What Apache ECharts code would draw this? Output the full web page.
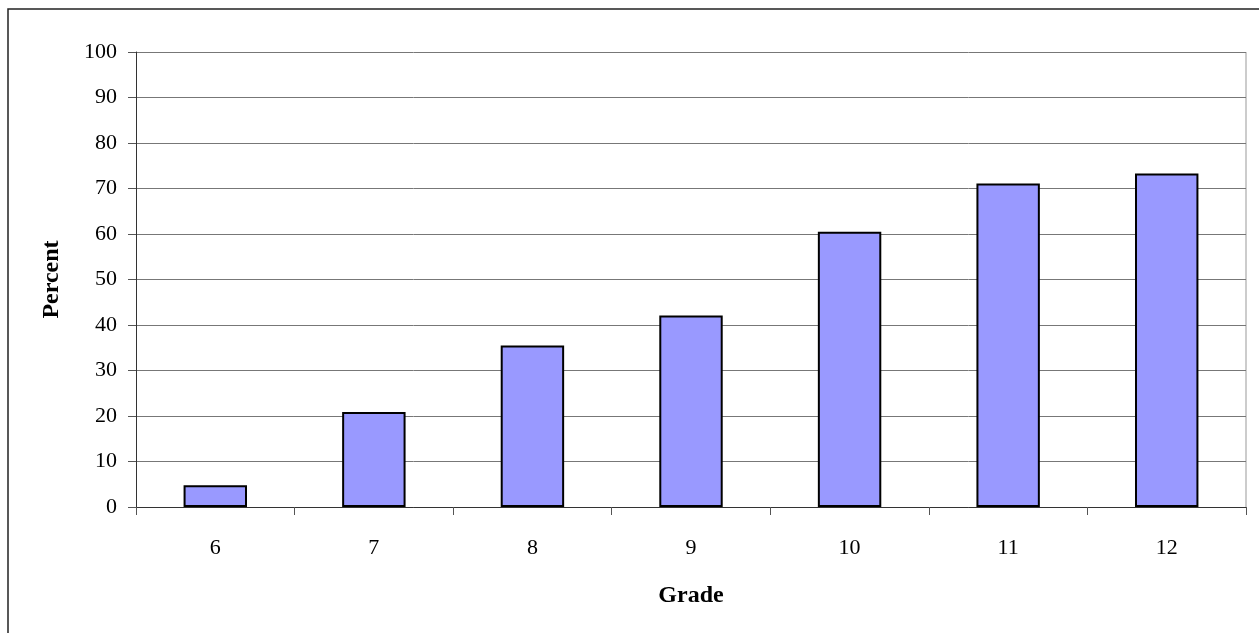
<!DOCTYPE html>
<html>
<head>
<meta charset="utf-8">
<script src="https://cdn.jsdelivr.net/npm/echarts@6/dist/echarts.min.js"></script>
<style>
  html, body { margin: 0; padding: 0; background: #fff; }
  #chart { width: 1259px; height: 633px; }
</style>
</head>
<body>
<div id="chart"></div>
<script>
// grades on the x axis and percent per grade
const grades = ['6', '7', '8', '9', '10', '11', '12'];
const percents = [4.8, 20.9, 35.5, 42.1, 60.5, 71.1, 73.3];

const font = '"Liberation Serif", "Times New Roman", serif';

let chart = echarts.init(document.getElementById('chart'));
chart.setOption({
  backgroundColor: '#fff',
  animation: false,
  textStyle: { fontFamily: font },
  graphic: [
    {
      // outer chart frame, runs off the right and bottom of the picture
      type: 'rect',
      shape: { x: 8, y: 9, width: 1400, height: 800 },
      style: { fill: 'none', stroke: '#222', lineWidth: 1.5 },
      silent: true
    },
    {
      // right edge of the plot area
      type: 'line',
      shape: { x1: 1246, y1: 52, x2: 1246, y2: 507 },
      style: { stroke: '#999', lineWidth: 1 },
      silent: true
    }
  ],
  grid: { left: 136, top: 52, right: 13, bottom: 126, containLabel: false },
  xAxis: {
    type: 'category',
    data: grades,
    name: 'Grade',
    nameLocation: 'middle',
    nameGap: 77,
    nameTextStyle: { fontFamily: font, fontSize: 24, fontWeight: 'bold', color: '#000' },
    axisLine: { lineStyle: { color: '#333', width: 1 } },
    axisTick: { show: true, length: 8, alignWithLabel: false, lineStyle: { color: '#555' } },
    axisLabel: { fontFamily: font, fontSize: 22, color: '#000', margin: 30 }
  },
  yAxis: {
    type: 'value',
    min: 0,
    max: 100,
    interval: 10,
    name: 'Percent',
    nameLocation: 'middle',
    nameGap: 72,
    nameTextStyle: { fontFamily: font, fontSize: 24, fontWeight: 'bold', color: '#000' },
    axisLine: { show: true, lineStyle: { color: '#333', width: 1 } },
    axisTick: { show: true, length: 8, lineStyle: { color: '#555' } },
    axisLabel: { fontFamily: font, fontSize: 22, color: '#000', margin: 19 },
    splitLine: { show: true, lineStyle: { color: '#777', width: 1 } }
  },
  series: [
    {
      type: 'bar',
      data: percents,
      barCategoryGap: '60%',
      itemStyle: { color: '#9999FF', borderColor: '#000', borderWidth: 2 }
    }
  ]
});
</script>
</body>
</html>
